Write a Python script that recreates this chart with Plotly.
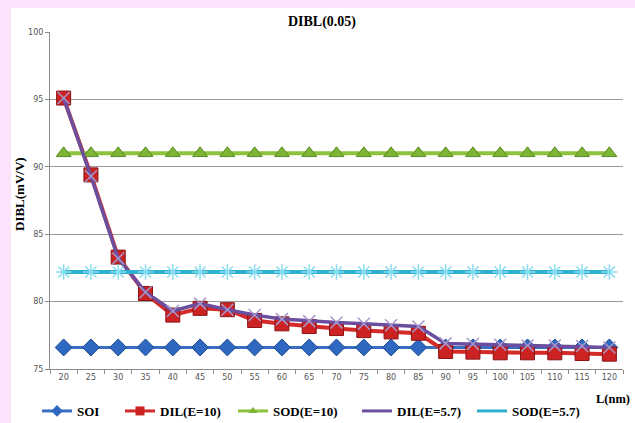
import plotly.graph_objects as go

# Channel length L (nm) categories
lengths = [20, 25, 30, 35, 40, 45, 50, 55, 60, 65, 70, 75, 80, 85, 90, 95, 100, 105, 110, 115, 120]

# DIBL (mV/V) per device structure
soi = [76.6] * 21
dil_e10 = [95.1, 89.4, 83.3, 80.6, 79.0, 79.5, 79.4, 78.6, 78.35, 78.15, 78.0, 77.85, 77.75, 77.65,
           76.3, 76.25, 76.2, 76.2, 76.2, 76.15, 76.1]
sod_e10 = [91.0] * 21
dil_e57 = [95.1, 89.3, 83.2, 80.7, 79.3, 79.85, 79.4, 79.0, 78.7, 78.55, 78.45, 78.35, 78.25, 78.15,
           76.9, 76.85, 76.8, 76.75, 76.75, 76.7, 76.6]
sod_e57 = [82.2] * 21

x_labels = [str(v) for v in lengths]
y_ticks = [75, 80, 85, 90, 95, 100]

W, H = 635, 423
serif = "Liberation Serif"

series = [
    dict(name="SOI", y=soi, line=dict(color="#3b6fc2", width=3),
         marker=dict(symbol="diamond", size=13, color="#2f68c0", line=dict(color="#1d4a93", width=1)),
         legend_marker=dict(symbol="diamond", size=9, color="#2f68c0")),
    dict(name="DIL(E=10)", y=dil_e10, line=dict(color="#d42a2a", width=4),
         marker=dict(symbol="square", size=14, color="#cc2222", line=dict(color="#8c1414", width=1)),
         legend_marker=dict(symbol="square", size=9, color="#cc2222")),
    dict(name="SOD(E=10)", y=sod_e10, line=dict(color="#8cc23c", width=4),
         marker=dict(symbol="triangle-up", size=13, color="#7db535", line=dict(color="#5c8a24", width=1)),
         legend_marker=dict(symbol="triangle-up", size=8, color="#7db535")),
    dict(name="DIL(E=5.7)", y=dil_e57, line=dict(color="#6b4f9e", width=3.5),
         marker=dict(symbol="x-thin-open", size=12, color="#a898cc", line=dict(color="#a898cc", width=1.5)),
         legend_marker=dict(symbol="x-thin-open", size=1, color="rgba(0,0,0,0)")),
    dict(name="SOD(E=5.7)", y=sod_e57, line=dict(color="#2fb0cf", width=4),
         marker=dict(symbol="asterisk-open", size=13, color="#86dcef", line=dict(color="#86dcef", width=1.5)),
         legend_marker=dict(symbol="asterisk-open", size=1, color="rgba(0,0,0,0)")),
]

# legend entries: left edge of the label text (px)
legend_text_x = [77, 160, 273, 397, 512]
legend_text_y = 411

fig = go.Figure()
legend_layouts = {}
for i, s in enumerate(series):
    lname = "legend" if i == 0 else f"legend{i + 1}"
    fig.add_trace(go.Scatter(
        x=x_labels, y=s["y"], name=s["name"], mode="lines+markers",
        line=s["line"], marker=s["marker"], showlegend=False,
    ))
    # legend key with a compact marker
    fig.add_trace(go.Scatter(
        x=[None], y=[None], name=f"<b>{s['name']}</b>", mode="lines+markers",
        line=dict(color=s["line"]["color"], width=3), marker=s["legend_marker"],
        legend=lname, showlegend=True, hoverinfo="skip",
    ))
    legend_layouts[lname] = dict(
        xref="container", yref="container",
        x=(legend_text_x[i] - 40) / W, y=1 - legend_text_y / H,
        xanchor="left", yanchor="middle",
        bgcolor="rgba(0,0,0,0)", itemwidth=30,
        font=dict(family=serif, size=13, color="#000000"),
    )

fig.update_layout(
    width=W, height=H,
    paper_bgcolor="#fde3fb",
    plot_bgcolor="#ffffff",
    margin=dict(l=50, r=12, t=32, b=54, autoexpand=False),
    showlegend=True,
    title=dict(text="<b>DIBL(0.05)</b>", x=322 / W, xanchor="center",
               y=1 - 21 / H, yanchor="middle", xref="container", yref="container",
               font=dict(family=serif, size=14, color="#000000")),
    xaxis=dict(
        type="category", showgrid=False, showline=True, linecolor="#8a8a8a", linewidth=1,
        ticks="outside", tickson="boundaries", ticklen=4, tickcolor="#8a8a8a",
        tickfont=dict(family="DejaVu Sans", size=8, color="#555555"),
        range=[-0.5, 20.5], fixedrange=True, automargin=False,
    ),
    yaxis=dict(
        range=[75, 100], tickvals=y_ticks, showgrid=True, gridcolor="#9a9a9a", gridwidth=1,
        showline=True, linecolor="#8a8a8a", linewidth=1, ticks="outside", ticklen=4,
        tickcolor="#8a8a8a", tickfont=dict(family="DejaVu Sans", size=8, color="#555555"),
        zeroline=False, automargin=False,
    ),
    shapes=[dict(type="rect", xref="paper", yref="paper",
                 x0=-39 / 573, x1=1 + 12 / 573, y0=-54 / 337, y1=1 + 24 / 337,
                 fillcolor="#ffffff", line=dict(width=0), layer="below")],
    annotations=[
        dict(text="<b>DIBL(mV/V)</b>", textangle=-90, xref="paper", yref="paper",
             x=-30 / 573, y=(369 - 194) / 337, xanchor="center", yanchor="middle",
             showarrow=False, font=dict(family=serif, size=13, color="#000000")),
        dict(text="<b>L(nm)</b>", xref="paper", yref="paper",
             x=(613 - 50) / 573, y=-(399 - 369) / 337, xanchor="center", yanchor="middle",
             showarrow=False, font=dict(family=serif, size=12.5, color="#000000")),
    ],
    **legend_layouts,
)

fig.write_html("out.html")
